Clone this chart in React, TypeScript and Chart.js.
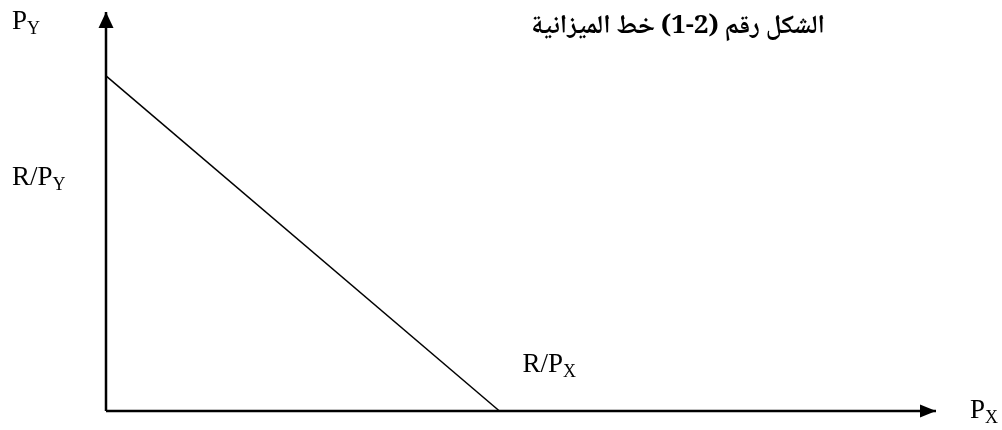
import React, { useEffect, useRef } from "react";
import { Chart, registerables } from "chart.js";

Chart.register(...registerables);

// axis extents (data units)
const X_MAX = [10];
const Y_MAX = [10];
// budget line intercepts: R/Px on x-axis, R/Py on y-axis
const BUDGET_X = [0, 4.74];
const BUDGET_Y = [8.4, 0];
const TITLE = "الشكل رقم (2-1) خط الميزانية";
const LABELS = ["P", "R/P", "R/P", "P"];
const SUBS = ["Y", "Y", "X", "X"];

const LATIN = "'Liberation Serif', 'DejaVu Serif', serif";
const ARABIC = "'Noto Naskh Arabic', 'DejaVu Sans', sans-serif";

function drawSubText(ctx: CanvasRenderingContext2D, main: string, sub: string, x: number, y: number, size: number) {
  ctx.font = `${size}px ${LATIN}`;
  ctx.textAlign = "left";
  ctx.textBaseline = "alphabetic";
  ctx.fillText(main, x, y);
  const w = ctx.measureText(main).width;
  ctx.font = `${Math.round(size * 0.68)}px ${LATIN}`;
  ctx.fillText(sub, x + w, y + size * 0.2);
}

const annotPlugin = {
  id: "annot",
  afterDatasetsDraw(chart: any) {
    const { ctx, scales } = chart;
    const xs = scales.x;
    const ys = scales.y;
    const x0 = xs.getPixelForValue(0);
    const y0 = ys.getPixelForValue(0);
    const xEnd = xs.getPixelForValue(X_MAX[0]);
    const yEnd = ys.getPixelForValue(Y_MAX[0]);
    ctx.save();
    ctx.fillStyle = "#000";
    // arrowheads
    ctx.beginPath();
    ctx.moveTo(x0, yEnd);
    ctx.lineTo(x0 - 7.5, yEnd + 16);
    ctx.lineTo(x0 + 7.5, yEnd + 16);
    ctx.closePath();
    ctx.fill();
    ctx.beginPath();
    ctx.moveTo(xEnd, y0);
    ctx.lineTo(xEnd - 16, y0 - 6.5);
    ctx.lineTo(xEnd - 16, y0 + 6.5);
    ctx.closePath();
    ctx.fill();
    // labels
    const size = 27;
    drawSubText(ctx, LABELS[0], SUBS[0], 12, 29, size);
    drawSubText(ctx, LABELS[1], SUBS[1], 12, 185, size);
    drawSubText(ctx, LABELS[2], SUBS[2], xs.getPixelForValue(BUDGET_X[1]) + 23, 372, size);
    drawSubText(ctx, LABELS[3], SUBS[3], xEnd + 34, 418, size);
    // title
    ctx.font = `bold 26px ${ARABIC}`;
    ctx.direction = "rtl";
    ctx.textAlign = "right";
    const tw = ctx.measureText(TITLE).width;
    const maxW = 300;
    const sx = tw > maxW ? maxW / tw : 1;
    ctx.translate(825, 33);
    ctx.scale(sx, 1);
    ctx.fillText(TITLE, 0, 0);
    ctx.restore();
  },
};

export default function App() {
  const ref = useRef<HTMLCanvasElement>(null);
  useEffect(() => {
    if (!ref.current) return;
    const chart = new Chart(ref.current, {
      type: "scatter",
      data: {
        datasets: [
          {
            data: [{ x: 0, y: 0 }, { x: 0, y: Y_MAX[0] }],
            showLine: true,
            borderColor: "#000",
            borderWidth: 2.5,
            pointRadius: 0,
          },
          {
            data: [{ x: 0, y: 0 }, { x: X_MAX[0], y: 0 }],
            showLine: true,
            borderColor: "#000",
            borderWidth: 2.5,
            pointRadius: 0,
          },
          {
            data: [
              { x: BUDGET_X[0], y: BUDGET_Y[0] },
              { x: BUDGET_X[1], y: BUDGET_Y[1] },
            ],
            showLine: true,
            borderColor: "#000",
            borderWidth: 1.5,
            pointRadius: 0,
          },
        ],
      },
      options: {
        animation: false,
        responsive: false,
        maintainAspectRatio: false,
        layout: { padding: { left: 106, right: 1002 - 936, top: 12, bottom: 430 - 411 } },
        plugins: { legend: { display: false }, tooltip: { enabled: false }, title: { display: false } },
        scales: {
          x: { type: "linear", min: 0, max: X_MAX[0], display: false },
          y: { type: "linear", min: 0, max: Y_MAX[0], display: false },
        },
        clip: false as any,
      },
      plugins: [annotPlugin],
    });
    return () => chart.destroy();
  }, []);
  return (
    <div style={{ position: "absolute", left: 0, top: 0, width: 1002, height: 430, background: "#fff" }}>
      <canvas ref={ref} width={1002} height={430} style={{ display: "block" }} />
    </div>
  );
}
